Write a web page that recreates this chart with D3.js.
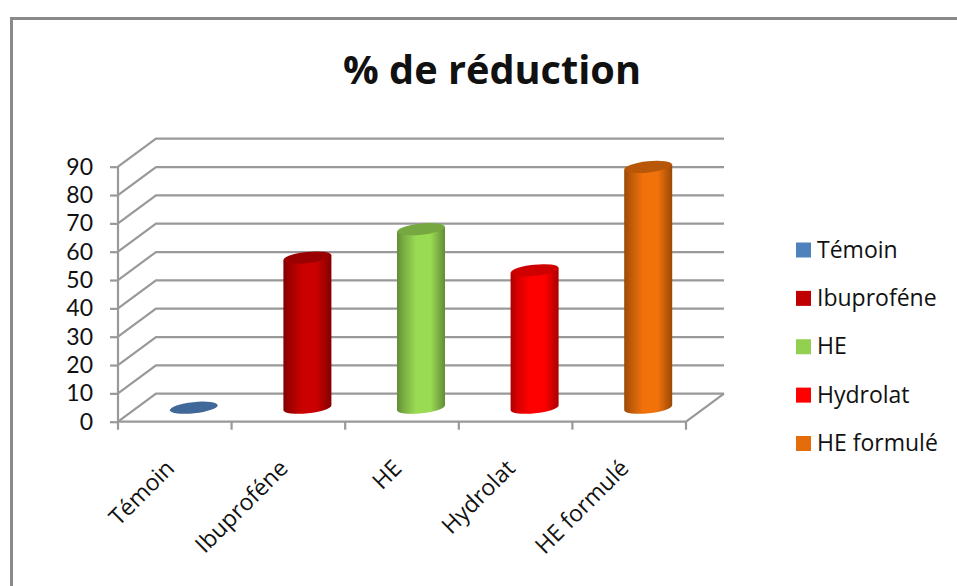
<!DOCTYPE html>
<html>
<head>
<meta charset="utf-8">
<script src="https://cdn.jsdelivr.net/npm/d3@7"></script>
<style>
  html, body { margin: 0; padding: 0; background: #fff; }
  svg { display: block; }
  text { font-family: "Open Sans", sans-serif; fill: #111; }
</style>
</head>
<body>
<div id="viz"></div>
<script>
// chart values
const categories = ["Témoin", "Ibuproféne", "HE", "Hydrolat", "HE formulé"];
const reduction = [0, 53, 63, 48.5, 85];
const colors = ["#4f81bd", "#c00000", "#92d050", "#ff0000", "#e46c0a"];
const yTicks = [0, 10, 20, 30, 40, 50, 60, 70, 80, 90];

const outerWidth = 957,
    outerHeight = 586,
    plot = {left: 118, right: 686, top: 166.7, bottom: 421.7},
    depth = {x: 38, y: -28}, // offset of the back wall
    gridColor = "#999";

const svg = d3.select("#viz").append("svg")
    .attr("width", outerWidth)
    .attr("height", outerHeight);

const defs = svg.append("defs");

// set up scales
const scX = d3.scaleBand().domain(categories).range([plot.left, plot.right]),
    scY = d3.scaleLinear().domain([0, 90]).range([plot.bottom, plot.top]);

// outer frame, only top and left fall inside the page
svg.append("path")
    .attr("d", d3.line()([[11.5, outerHeight], [11.5, 18.5], [outerWidth, 18.5]]))
    .attr("fill", "none")
    .attr("stroke", "#8a8a8a")
    .attr("stroke-width", 3);

svg.append("text")
    .attr("x", 492)
    .attr("y", 84)
    .attr("text-anchor", "middle")
    .attr("font-size", 39.7)
    .attr("font-weight", 700)
    .text("% de réduction");

// walls and floor
const grid = svg.append("g")
    .attr("fill", "none")
    .attr("stroke", gridColor)
    .attr("stroke-width", 2.2);

grid.selectAll("path.level")
    .data(yTicks)
    .enter().append("path")
    .attr("class", "level")
    .attr("d", d => d3.line()([
        [plot.left, scY(d)],
        [plot.left + depth.x, scY(d) + depth.y],
        [plot.right + depth.x, scY(d) + depth.y]
    ]));

// front edge of the floor and its right side
grid.append("path")
    .attr("d", d3.line()([
        [plot.left, plot.bottom],
        [plot.right, plot.bottom],
        [plot.right + depth.x, plot.bottom + depth.y]
    ]));

// value axis, Lato keeps the tick labels inside their 28px rows
const yAxis = svg.append("g")
    .attr("transform", `translate(${plot.left},0)`)
    .call(d3.axisLeft(scY).tickValues(yTicks).tickSize(8).tickPadding(17));
yAxis.selectAll("path, line").attr("stroke", gridColor).attr("stroke-width", 2.2);
yAxis.select("path").attr("d", `M0,${plot.top}V${plot.bottom}`);
yAxis.selectAll("text")
    .attr("font-size", 23)
    .style("font-family", "Lato")
    .attr("fill", "#111");

// category ticks sit between the bands
svg.append("g").selectAll("line")
    .data(d3.range(categories.length + 1))
    .enter().append("line")
    .attr("x1", i => plot.left + i * scX.step())
    .attr("x2", i => plot.left + i * scX.step())
    .attr("y1", plot.bottom)
    .attr("y2", plot.bottom + 8)
    .attr("stroke", gridColor)
    .attr("stroke-width", 2.2);

svg.append("g").selectAll("text")
    .data(categories)
    .enter().append("text")
    .attr("transform", d => `translate(${scX(d) + scX.bandwidth() / 2 + 1},${plot.bottom + 48}) rotate(-45)`)
    .attr("text-anchor", "end")
    .attr("font-size", 23)
    .text(d => d);

// shaded cylinder fill, dark at both sides
function shade(id, color) {
    const c = d3.color(color);
    const g = defs.append("linearGradient").attr("id", id);
    g.append("stop").attr("offset", "0%").attr("stop-color", c.darker(1.1));
    g.append("stop").attr("offset", "14%").attr("stop-color", c.darker(0.5));
    g.append("stop").attr("offset", "40%").attr("stop-color", c.brighter(0.15));
    g.append("stop").attr("offset", "70%").attr("stop-color", c.brighter(0.15));
    g.append("stop").attr("offset", "100%").attr("stop-color", c.darker(1.1));
}
categories.forEach((d, i) => shade("cyl" + i, colors[i]));

const rx = 24,
    ry = 5.6,
    tilt = -6,
    tiltDy = rx * Math.sin(tilt * Math.PI / 180);

const bars = svg.append("g").selectAll("g")
    .data(categories)
    .enter().append("g")
    .attr("transform", d => `translate(${scX(d) + scX.bandwidth() / 2 + depth.x / 2},${depth.y / 2})`);

// body
bars.filter((d, i) => reduction[i] > 0).append("path")
    .attr("fill", d => `url(#cyl${categories.indexOf(d)})`)
    .attr("d", d => {
        const top = scY(reduction[categories.indexOf(d)]), base = scY(0);
        return `M${-rx},${top - tiltDy}L${-rx},${base - tiltDy}` +
            `A${rx},${ry} ${tilt} 0 0 ${rx},${base + tiltDy}` +
            `L${rx},${top + tiltDy}Z`;
    });

// top cap
bars.append("ellipse")
    .attr("rx", rx)
    .attr("ry", ry)
    .attr("transform", d => `translate(0,${scY(reduction[categories.indexOf(d)])}) rotate(${tilt})`)
    .attr("fill", d => d3.color(colors[categories.indexOf(d)]).darker(0.6));

// legend
const legendY = d3.scalePoint().domain(categories).range([250, 443.5]);
const legend = svg.append("g").selectAll("g")
    .data(categories)
    .enter().append("g")
    .attr("transform", d => `translate(796,${legendY(d)})`);

legend.append("rect")
    .attr("y", -7.5)
    .attr("width", 15)
    .attr("height", 15)
    .attr("fill", (d, i) => colors[i]);

legend.append("text")
    .attr("x", 21)
    .attr("y", 7.5)
    .attr("font-size", 23)
    .text(d => d);
</script>
</body>
</html>
